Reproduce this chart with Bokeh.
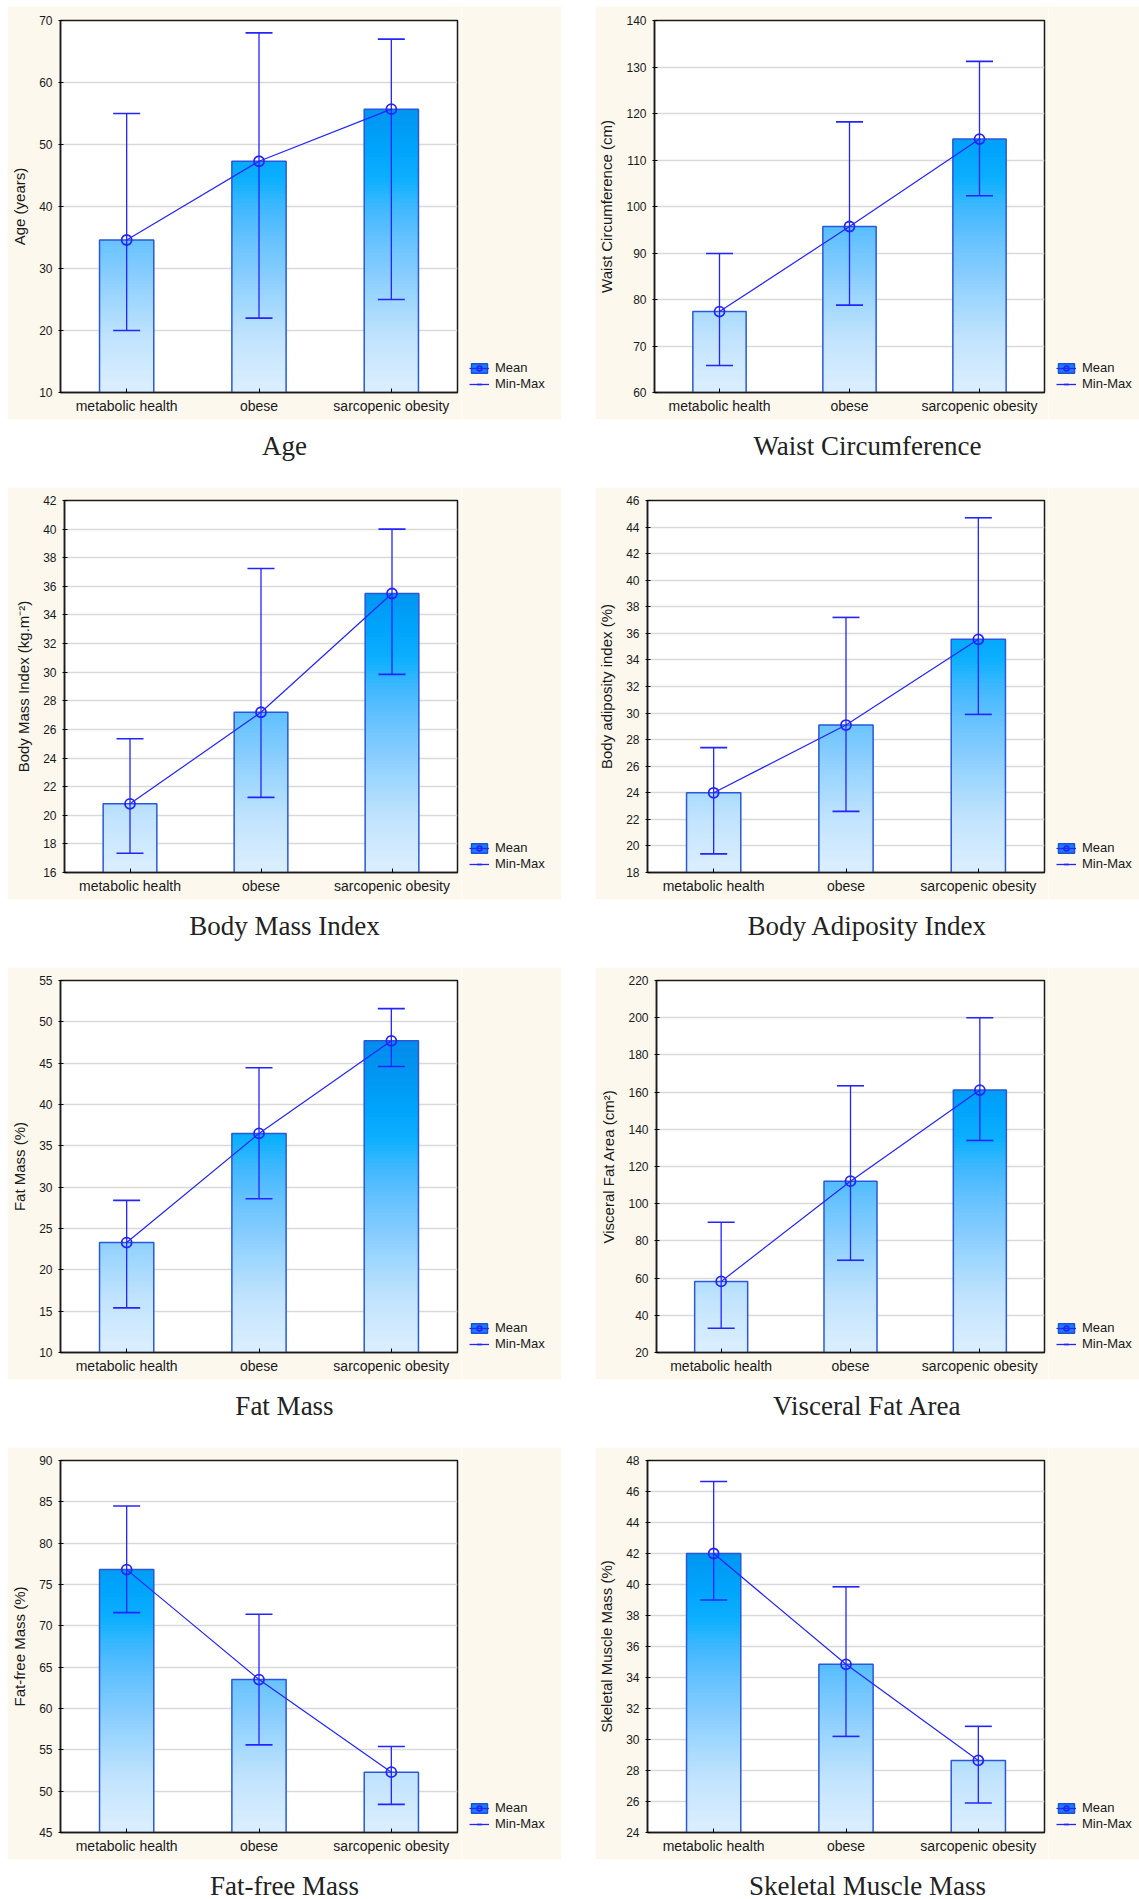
from bokeh.plotting import figure
from bokeh.models import (Range1d, FactorRange, SingleIntervalTicker, Legend, LegendItem, Label, Spacer)
from bokeh.layouts import column, row
from bokeh.embed import file_html
from bokeh.resources import INLINE

# ---------------- data ----------------
categories = ["metabolic health", "obese", "sarcopenic obesity"]

age_mean = [34.6, 47.3, 55.7]
age_min = [20.0, 22.0, 25.0]
age_max = [55.0, 68.0, 67.0]

waist_mean = [77.4, 95.7, 114.5]
waist_min = [65.8, 78.8, 102.3]
waist_max = [89.9, 118.2, 131.2]

bmi_mean = [20.8, 27.2, 35.5]
bmi_min = [17.35, 21.25, 29.85]
bmi_max = [25.35, 37.25, 40.0]

bai_mean = [24.0, 29.1, 35.55]
bai_min = [19.4, 22.6, 29.9]
bai_max = [27.4, 37.2, 44.7]

fm_mean = [23.3, 36.5, 47.7]
fm_min = [15.4, 28.6, 44.6]
fm_max = [28.4, 44.45, 51.6]

vfa_mean = [58.2, 112.1, 161.1]
vfa_min = [33.0, 69.6, 134.0]
vfa_max = [90.0, 163.4, 200.0]

ffm_mean = [76.8, 63.5, 52.3]
ffm_min = [71.6, 55.6, 48.4]
ffm_max = [84.5, 71.4, 55.4]

smm_mean = [42.0, 34.85, 28.65]
smm_min = [39.0, 30.2, 25.9]
smm_max = [46.65, 39.85, 30.85]

titles = ["Age", "Waist Circumference", "Body Mass Index", "Body Adiposity Index",
          "Fat Mass", "Visceral Fat Area", "Fat-free Mass", "Skeletal Muscle Mass"]
y_labels = ["Age (years)", "Waist Circumference (cm)", "Body Mass Index (kg.m\u207b\u00b2)",
            "Body adiposity index (%)", "Fat Mass (%)", "Visceral Fat Area (cm\u00b2)",
            "Fat-free Mass (%)", "Skeletal Muscle Mass (%)"]
y_lo = [10, 60, 16, 18, 10, 20, 45, 24]
y_hi = [70, 140, 42, 46, 55, 220, 90, 48]
y_step = [10, 10, 2, 2, 5, 20, 5, 2]

means = [age_mean, waist_mean, bmi_mean, bai_mean, fm_mean, vfa_mean, ffm_mean, smm_mean]
mins = [age_min, waist_min, bmi_min, bai_min, fm_min, vfa_min, ffm_min, smm_min]
maxs = [age_max, waist_max, bmi_max, bai_max, fm_max, vfa_max, ffm_max, smm_max]

# ---------------- style ----------------
BEIGE = "#fcf8ee"
SANS = "Liberation Sans"
SERIF = "Liberation Serif"
BLUE = "#2424ff"
BAR_EDGE = "#2a58d8"
TXT = "#1a1a1a"

STOPS = [(0.0, (220, 239, 253)), (0.15, (192, 227, 253)), (0.30, (142, 208, 254)),
         (0.42, (98, 193, 255)), (0.50, (62, 184, 255)), (0.57, (14, 176, 255)),
         (0.65, (0, 165, 252)), (0.75, (0, 150, 242)), (0.85, (5, 138, 236)),
         (1.0, (10, 120, 228))]


def grad(t):
    t = max(0.0, min(1.0, t))
    for (t0, c0), (t1, c1) in zip(STOPS, STOPS[1:]):
        if t <= t1:
            f = (t - t0) / (t1 - t0)
            return "#%02x%02x%02x" % tuple(int(round(a + (b - a) * f)) for a, b in zip(c0, c1))
    return "#%02x%02x%02x" % STOPS[-1][1]


# layout
col_w = [554, 544]
left_b = [53, 58, 57, 51, 53, 61, 53, 51]
frame_w = [397, 391, 393, 398, 397, 388, 397, 398]
RIGHT_B = 4
FRAME_H = 372
top_b = [14, 13, 13, 13]
BOTTOM_B = 27
title_h = [68, 68, 68, 38]
LEGEND_Y = 1


def style_whiskers(p, x, mn, mx, mean, visible=True):
    stems = p.segment(x0=x, y0=mn, x1=x, y1=mx, line_color=BLUE, line_width=1.3, visible=visible)
    caps_hi = p.scatter(x=x, y=mx, marker="dash", size=27, line_color=BLUE, line_width=1.6,
                        visible=visible)
    caps_lo = p.scatter(x=x, y=mn, marker="dash", size=27, line_color=BLUE, line_width=1.6,
                        visible=visible)
    mline = p.line(x=x, y=mean, line_color=BLUE, line_width=1.2, visible=visible)
    mpts = p.scatter(x=x, y=mean, marker="circle", size=10, fill_alpha=0,
                     line_color=BLUE, line_width=1.8, visible=visible)
    return stems, caps_hi, caps_lo, mline, mpts


def make_panel(i):
    r, c = divmod(i, 2)
    lo, hi, step = y_lo[i], y_hi[i], y_step[i]
    mean, mn, mx = means[i], mins[i], maxs[i]
    W = left_b[i] + frame_w[i] + RIGHT_B
    H = top_b[r] + FRAME_H + BOTTOM_B
    p = figure(width=W, height=H, x_range=FactorRange(*categories),
               y_range=Range1d(lo, hi), toolbar_location=None, output_backend="svg",
               min_border_left=left_b[i], min_border_right=RIGHT_B,
               min_border_top=top_b[r], min_border_bottom=BOTTOM_B,
               background_fill_color="white", border_fill_color=BEIGE,
               outline_line_color="#1a1a1a", outline_line_width=1.5)

    # gradient bars made of thin horizontal slices
    nb = 120
    h = (hi - lo) / nb
    xs, bots, tops, cols = [], [], [], []
    for cat, m in zip(categories, mean):
        for k in range(nb):
            b = lo + k * h
            if b >= m:
                break
            xs.append(cat)
            bots.append(b)
            tops.append(min(b + 1.7 * h, m))
            cols.append(grad((b + 0.5 * h - lo) / (hi - lo)))
    p.vbar(x=xs, bottom=bots, top=tops, width=0.41, fill_color=cols, line_color=None)
    p.vbar(x=categories, bottom=[lo] * 3, top=mean, width=0.41, fill_alpha=0,
           line_color=BAR_EDGE, line_width=1.5)

    style_whiskers(p, categories, mn, mx, mean)

    # axes
    p.yaxis.ticker = SingleIntervalTicker(interval=step)
    p.yaxis.axis_label = y_labels[i]
    p.yaxis.axis_label_text_font = SANS
    p.yaxis.axis_label_text_font_style = "normal"
    p.yaxis.axis_label_text_font_size = "15px"
    p.yaxis.axis_label_text_color = TXT
    p.yaxis.axis_label_standoff = 8
    p.yaxis.major_label_text_font = SANS
    p.yaxis.major_label_text_font_size = "12px"
    p.yaxis.major_label_text_color = TXT
    p.yaxis.major_label_standoff = 4
    p.yaxis.major_tick_in = 3
    p.yaxis.major_tick_out = 2
    p.yaxis.minor_tick_line_color = None
    p.yaxis.axis_line_color = "#1a1a1a"
    p.yaxis.axis_line_width = 1.5

    p.xaxis.major_label_text_font = SANS
    p.xaxis.major_label_text_font_size = "14px"
    p.xaxis.major_label_text_color = TXT
    p.xaxis.major_label_standoff = 5
    p.xaxis.major_tick_in = 4
    p.xaxis.major_tick_out = 0
    p.xaxis.axis_line_color = "#1a1a1a"
    p.xaxis.axis_line_width = 1.5

    p.xgrid.visible = False
    p.ygrid.grid_line_color = "#d9d9d9"
    p.ygrid.grid_line_width = 1.5
    return p


def make_legend_fig(i):
    """Beige strip right of the frame that carries the Mean / Min-Max legend."""
    r, c = divmod(i, 2)
    lo, hi = y_lo[i], y_hi[i]
    mean, mn, mx = means[i], mins[i], maxs[i]
    W = col_w[c] - (left_b[i] + frame_w[i] + RIGHT_B)
    H = top_b[r] + FRAME_H + BOTTOM_B
    q = figure(width=W, height=H, x_range=FactorRange(*categories), y_range=Range1d(lo, hi),
               toolbar_location=None, output_backend="svg", x_axis_type=None, y_axis_type=None,
               min_border=0, outline_line_color=None, background_fill_color=BEIGE,
               border_fill_color=BEIGE)
    swatch = q.vbar(x=categories, bottom=[lo] * 3, top=mean, width=0.41, fill_color="#1a7ef5",
                    line_color="#1f4fd8", line_width=1.5, visible=False)
    stems, caps_hi, caps_lo, mline, mpts = style_whiskers(q, categories, mn, mx, mean,
                                                           visible=False)
    legend = Legend(items=[LegendItem(label="Mean", renderers=[swatch, mline, mpts]),
                           LegendItem(label="Min-Max", renderers=[stems, caps_hi])],
                    location=(12 - RIGHT_B, LEGEND_Y), orientation="vertical",
                    glyph_width=20, glyph_height=12, label_height=12, label_standoff=6,
                    spacing=1, padding=0, margin=0, border_line_alpha=0,
                    background_fill_alpha=0, inactive_fill_alpha=0, label_text_font=SANS,
                    label_text_font_size="13px", label_text_color=TXT)
    q.add_layout(legend)
    return q


def make_title(i):
    r, c = divmod(i, 2)
    H = title_h[r]
    W = col_w[c]
    t = figure(width=W, height=H, x_range=Range1d(0, 1), y_range=Range1d(0, H),
               toolbar_location=None, output_backend="svg", x_axis_type=None, y_axis_type=None,
               min_border=0, outline_line_color=None, background_fill_color="white",
               border_fill_color="white")
    t.add_layout(Label(x=0.5, y=H - 26, text=titles[i], text_align="center",
                       text_baseline="alphabetic", text_font=SERIF, text_font_size="27px",
                       text_color="#222222"))
    return t


rows = [Spacer(width=10, height=6)]
for r in range(4):
    hh = top_b[r] + FRAME_H + BOTTOM_B
    a, b = 2 * r, 2 * r + 1
    rows.append(row(Spacer(width=7, height=hh), make_panel(a), make_legend_fig(a),
                    Spacer(width=34, height=hh), make_panel(b), make_legend_fig(b), spacing=0))
    th = title_h[r]
    rows.append(row(Spacer(width=7, height=th), make_title(a), Spacer(width=34, height=th),
                    make_title(b), spacing=0))

layout = column(*rows, spacing=0)

with open("out.html", "w") as f:
    f.write(file_html(layout, INLINE, title="Body composition"))
